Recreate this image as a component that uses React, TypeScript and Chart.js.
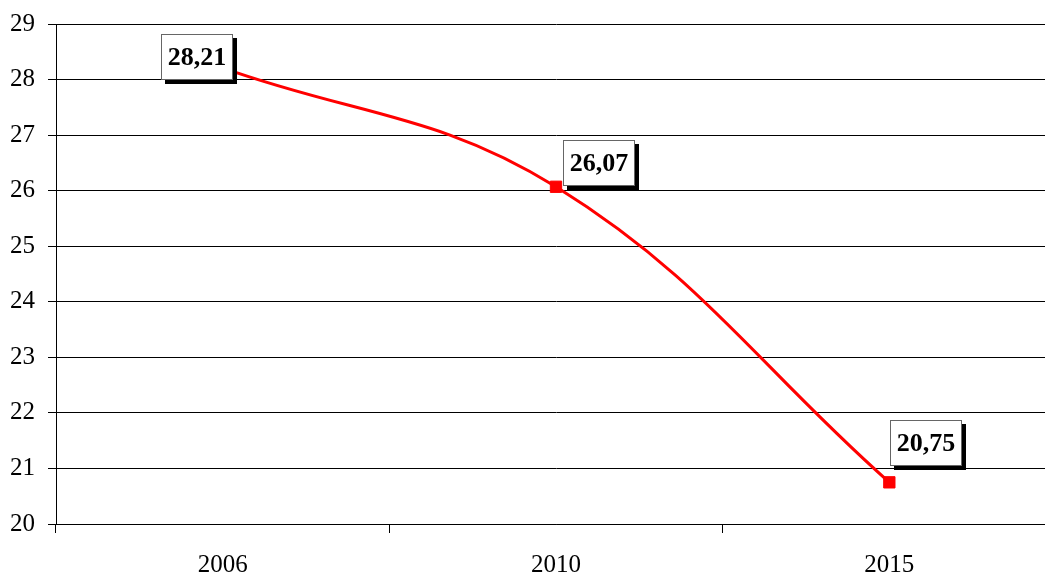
import React, { useEffect, useRef } from "react";
import { Chart, registerables } from "chart.js";

Chart.register(...registerables);

const categories = ["2006", "2010", "2015"];
const values = [28.21, 26.07, 20.75];
const yTicksMin = 20;
const yTicksMax = 29;
// label box center offsets relative to the point (px)
const labelOffsets = [
  [-26, -11],
  [43, -24],
  [37, -39],
];

const FONT = "'Liberation Serif', 'Times New Roman', serif";

const labelPlugin = {
  id: "boxLabels",
  afterDatasetsDraw(chart: any) {
    const ctx = chart.ctx;
    const meta = chart.getDatasetMeta(0);
    ctx.save();
    ctx.font = `bold 26px ${FONT}`;
    ctx.textAlign = "center";
    ctx.textBaseline = "middle";
    meta.data.forEach((pt: any, i: number) => {
      const txt = values[i].toFixed(2).replace(".", ",");
      const w = Math.round(ctx.measureText(txt).width + 13);
      const h = 46;
      const cx = pt.x + labelOffsets[i][0];
      const cy = pt.y + labelOffsets[i][1];
      const x0 = Math.round(cx - w / 2);
      const y0 = Math.round(cy - h / 2);
      ctx.fillStyle = "#000";
      ctx.fillRect(x0 + 4, y0 + 4, w, h);
      ctx.fillStyle = "#fff";
      ctx.fillRect(x0, y0, w, h);
      ctx.strokeStyle = "#666";
      ctx.lineWidth = 1;
      ctx.strokeRect(x0 + 0.5, y0 + 0.5, w - 1, h - 1);
      ctx.fillStyle = "#000";
      ctx.fillText(txt, x0 + w / 2, y0 + h / 2 + 1);
    });
    ctx.restore();
  },
};

export default function App() {
  const ref = useRef<HTMLCanvasElement | null>(null);
  useEffect(() => {
    if (!ref.current) return;
    const chart = new Chart(ref.current, {
      type: "line",
      data: {
        labels: categories,
        datasets: [
          {
            data: values,
            borderColor: "#ff0000",
            backgroundColor: "#ff0000",
            borderWidth: 3,
            tension: 0.4,
            pointStyle: "rect",
            pointRadius: 8,
            pointBorderWidth: 1,
            pointBorderColor: "#ff0000",
            pointBackgroundColor: "#ff0000",
            fill: false,
          },
        ],
      },
      options: {
        responsive: false,
        animation: false,
        layout: { padding: { top: 24, right: 0, left: 0, bottom: 0 } },
        plugins: {
          legend: { display: false },
          tooltip: { enabled: false },
        },
        scales: {
          x: {
            type: "category",
            offset: true,
            grid: {
              offset: true,
              drawOnChartArea: false,
              drawTicks: true,
              tickLength: 9,
              color: "#000",
            },
            border: { display: true, color: "#000", width: 1 },
            ticks: {
              color: "#000",
              font: { family: FONT, size: 25 },
              padding: 17,
              maxRotation: 0,
            },
            afterFit(scale: any) {
              scale.height = 52;
              scale.paddingLeft = 0;
              scale.paddingRight = 0;
            },
          },
          y: {
            min: yTicksMin,
            max: yTicksMax,
            grid: {
              color: "#000",
              drawTicks: true,
              tickLength: 8,
            },
            border: { display: true, color: "#000", width: 1 },
            ticks: {
              stepSize: 1,
              color: "#000",
              font: { family: FONT, size: 25 },
              padding: 13,
            },
            afterFit(scale: any) {
              scale.width = 56;
              scale.paddingTop = 0;
              scale.paddingBottom = 0;
            },
          },
        },
      },
      plugins: [labelPlugin],
    } as any);
    return () => chart.destroy();
  }, []);
  return (
    <div
      style={{
        position: "fixed",
        left: 0,
        top: 0,
        width: 1045,
        height: 576,
        overflow: "hidden",
        background: "#fff",
      }}
    >
      <canvas ref={ref} width={1065} height={576} style={{ display: "block" }} />
    </div>
  );
}
